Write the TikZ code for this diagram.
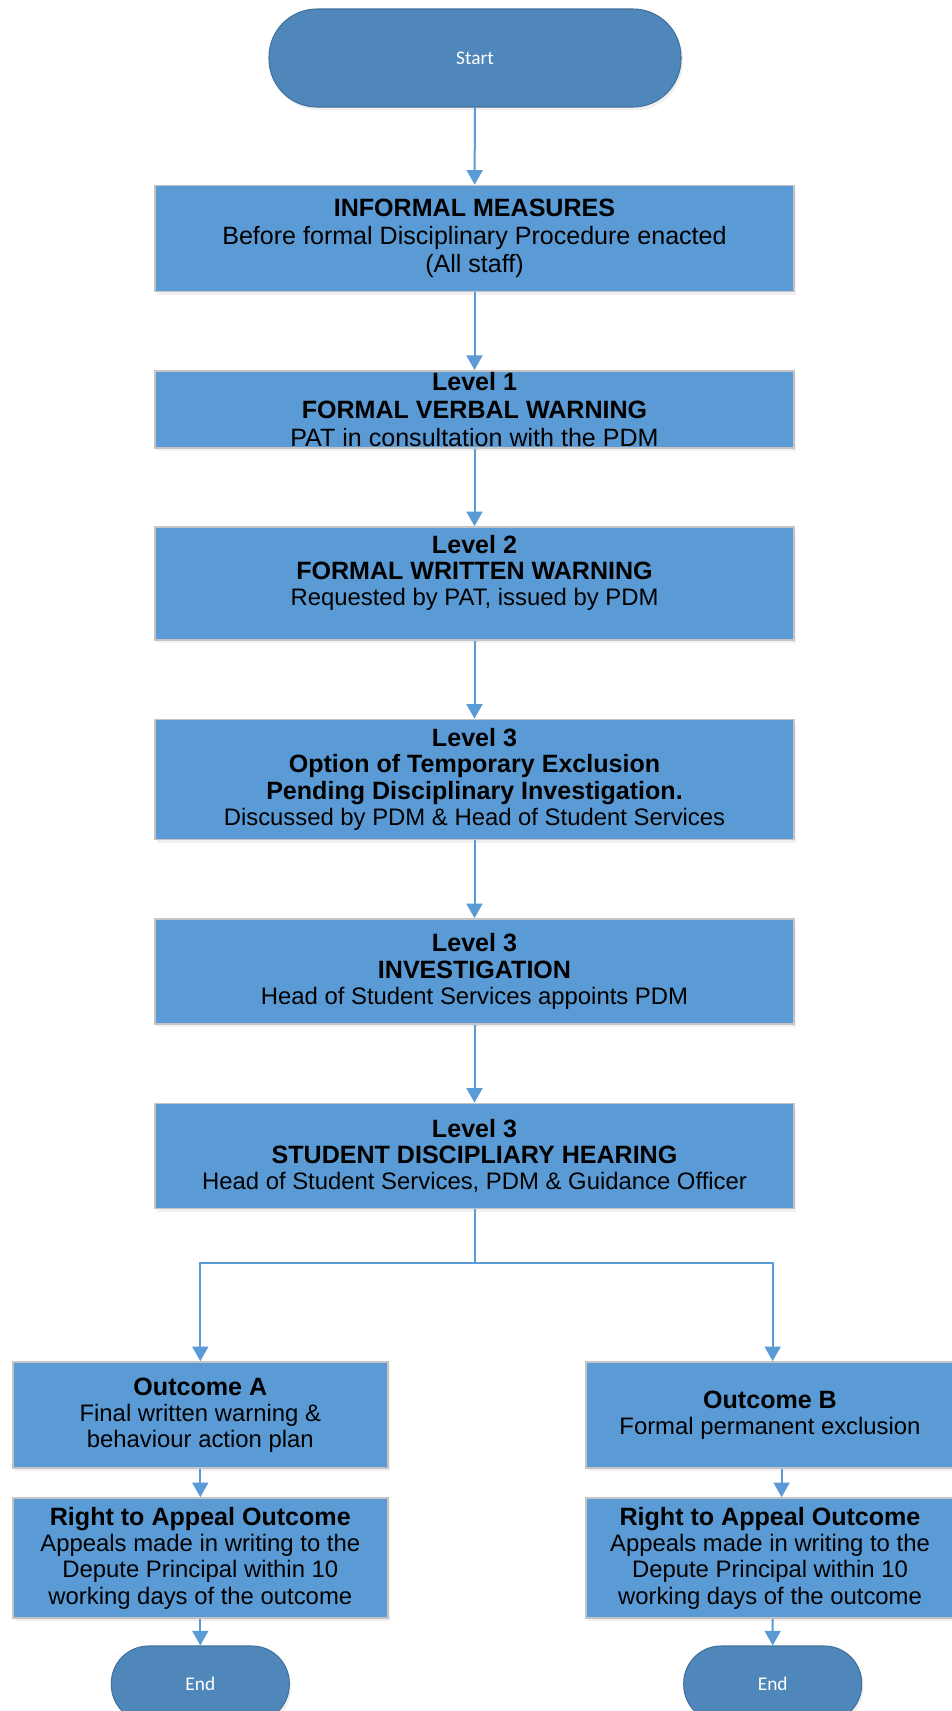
\documentclass[tikz,border=0pt]{standalone}
\usepackage{fontspec}
\setmainfont{Liberation Sans}
\newfontfamily\termfont{Carlito}
\usetikzlibrary{arrows.meta,shadows}
\definecolor{boxblue}{HTML}{5B9BD5}
\definecolor{termblue}{HTML}{4F87BA}
\definecolor{termline}{HTML}{41719C}
\definecolor{boxline}{HTML}{C4C4C4}
\newcommand\hd[1]{{\fontsize{18.8}{19.7}\selectfont\bfseries #1}}
\tikzset{
    stagebox/.style={draw=boxline, line width=1.2pt, fill=boxblue, align=center, inner sep=0pt,
        font=\fontsize{17.9}{19.7}\selectfont, text=black,
        drop shadow={opacity=0.12, shadow xshift=1.5pt, shadow yshift=-2.5pt}},
    bigtext/.style={font=\fontsize{18.8}{21.2}\selectfont},
    termbox/.style={draw=termline, line width=0.8pt, fill=termblue, rounded corners=36pt,
        inner sep=0pt, text=white, font=\termfont\fontsize{14.5}{17}\selectfont,
        drop shadow={opacity=0.12, shadow xshift=1.5pt, shadow yshift=-2.5pt}},
    flow/.style={draw=boxblue, line width=1.5pt, -{Triangle[length=11pt,width=12pt]}}
}
\begin{document}
\begin{tikzpicture}[x=0.75pt, y=-0.75pt]
        \useasboundingbox (0,0) rectangle (952,1711);
        \node[termbox, minimum width=309pt, minimum height=73.5pt] (start) at (475,58) {Start};
        \node[stagebox, bigtext, minimum width=479.25pt, minimum height=79.5pt] (inf) at (474.5,238.5)
            {\hd{INFORMAL MEASURES}\\Before formal Disciplinary Procedure enacted\\(All staff)};
        \node[stagebox, bigtext, minimum width=479.25pt, minimum height=57.75pt] (lvone) at (474.5,409.3)
            {\hd{Level 1}\\\hd{FORMAL VERBAL WARNING}\\PAT in consultation with the PDM};
        \node[stagebox, minimum width=479.25pt, minimum height=84.75pt] (lvtwo) at (474.5,583.5)
            {\hd{Level 2}\\\hd{FORMAL WRITTEN WARNING}\\Requested by PAT, issued by PDM\\\mbox{}};
        \node[stagebox, minimum width=479.25pt, minimum height=90pt] (exclusion) at (474.5,779.5)
            {\hd{Level 3}\\\hd{Option of Temporary Exclusion}\\\hd{Pending Disciplinary Investigation.}\\Discussed by PDM \& Head of Student Services};
        \node[stagebox, minimum width=479.25pt, minimum height=78.75pt] (invest) at (474.5,971.5)
            {\hd{Level 3}\\\hd{INVESTIGATION}\\Head of Student Services appoints PDM};
        \node[stagebox, minimum width=479.25pt, minimum height=78.75pt] (hearing) at (474.5,1156)
            {\hd{Level 3}\\\hd{STUDENT DISCIPLIARY HEARING}\\Head of Student Services, PDM \& Guidance Officer};
        \node[stagebox, minimum width=281.25pt, minimum height=79.5pt] (outA) at (200.3,1415)
            {\hd{Outcome A}\\Final written warning \&\\behaviour action plan};
        \node[stagebox, minimum width=281.25pt, minimum height=90pt] (appealA) at (200.3,1558)
            {\hd{Right to Appeal Outcome}\\Appeals made in writing to the\\Depute Principal within 10\\working days of the outcome};
        \node[termbox, rounded corners=28pt, minimum width=133.5pt, minimum height=57pt] (endA) at (200.3,1684) {End};
        \node[stagebox, minimum width=276pt, minimum height=79.5pt] (outB) at (770,1415)
            {\hd{Outcome B}\\Formal permanent exclusion};
        \node[stagebox, minimum width=276pt, minimum height=90pt] (appealB) at (770,1558)
            {\hd{Right to Appeal Outcome}\\Appeals made in writing to the\\Depute Principal within 10\\working days of the outcome};
        \node[termbox, rounded corners=28pt, minimum width=133.5pt, minimum height=57pt] (endB) at (772.7,1684) {End};
        \draw[flow] (start) -- (inf);
        \draw[flow] (inf) -- (lvone);
        \draw[flow] (lvone) -- (lvtwo);
        \draw[flow] (lvtwo) -- (exclusion);
        \draw[flow] (exclusion) -- (invest);
        \draw[flow] (invest) -- (hearing);
        \draw[draw=boxblue, line width=1.5pt] (hearing.south) -- ++(0,54) coordinate (split);
        \draw[flow] (split) -| (outA.north);
        \draw[flow] (split) -| ([xshift=2pt]outB.north);
        \draw[flow] (outA) -- (appealA);
        \draw[flow] (appealA) -- (endA);
        \draw[flow] ([xshift=8.7pt]outB.south) -- ([xshift=8.7pt]appealB.north);
        \draw[flow] ([xshift=2pt]appealB.south) -- (endB.north);
    \end{tikzpicture}
\end{document}
